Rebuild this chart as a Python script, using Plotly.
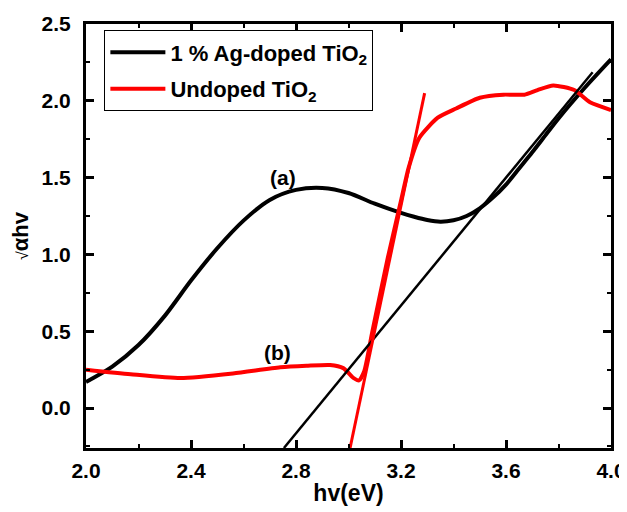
import plotly.graph_objects as go

# Data
ag_x = [2.0, 2.1, 2.2, 2.3, 2.4, 2.5, 2.6, 2.7, 2.8, 2.9, 3.0, 3.1, 3.2, 3.25, 3.3, 3.35, 3.4, 3.45, 3.5, 3.55, 3.6, 3.65, 3.7, 3.75, 3.8, 3.9, 4.0]
ag_y = [0.17, 0.27, 0.41, 0.60, 0.83, 1.04, 1.22, 1.355, 1.42, 1.433, 1.40, 1.33, 1.27, 1.245, 1.224, 1.213, 1.222, 1.25, 1.30, 1.37, 1.455, 1.56, 1.665, 1.775, 1.885, 2.085, 2.27]

un_x = [2.0, 2.17, 2.36, 2.56, 2.74, 2.84, 2.93, 2.98, 3.02, 3.04, 3.06, 3.09, 3.15, 3.20, 3.23, 3.27, 3.34, 3.41, 3.50, 3.59, 3.67, 3.72, 3.78, 3.86, 3.92, 4.0]
un_y = [0.25, 0.22, 0.195, 0.225, 0.265, 0.275, 0.28, 0.26, 0.195, 0.18, 0.24, 0.49, 0.98, 1.35, 1.57, 1.76, 1.89, 1.95, 2.02, 2.04, 2.04, 2.07, 2.10, 2.07, 1.99, 1.94]

fit_ag_x = [2.754, 3.93]
fit_ag_y = [-0.26, 2.186]
fit_un_x = [3.006, 3.29]
fit_un_y = [-0.26, 2.05]

labels = ["(a)", "(b)"]
label_x = [2.75, 2.73]
label_y = [1.50, 0.36]

FONT = "Arial, 'Liberation Sans', sans-serif"

fig = go.Figure()
fig.add_trace(go.Scatter(x=ag_x, y=ag_y, mode="lines", name="<b>1 % Ag-doped TiO<sub>2</sub></b>",
                         legendgroup="a",
                         line=dict(color="black", width=4, shape="spline", smoothing=0.8)))
fig.add_trace(go.Scatter(x=un_x, y=un_y, mode="lines", name="<b>Undoped TiO<sub>2</sub></b>",
                         legendgroup="b",
                         line=dict(color="#ff0000", width=4, shape="spline", smoothing=0.6)))
fig.add_trace(go.Scatter(x=fit_ag_x, y=fit_ag_y, mode="lines", showlegend=False,
                         line=dict(color="black", width=2.5)))
fig.add_trace(go.Scatter(x=fit_un_x, y=fit_un_y, mode="lines", showlegend=False,
                         line=dict(color="#ff0000", width=3)))

for t, x, y in zip(labels, label_x, label_y):
    fig.add_annotation(x=x, y=y, text="<b>" + t + "</b>", showarrow=False,
                       font=dict(family=FONT, size=21, color="black"))

axis_common = dict(
    showline=True, linecolor="black", linewidth=3, mirror="allticks",
    ticks="inside", ticklen=8, tickwidth=3, tickcolor="black",
    showgrid=False, zeroline=False, automargin=False,
    tickfont=dict(family=FONT, size=21, color="black", weight="bold"),
)

fig.update_xaxes(range=[2.0, 4.0], tick0=2.0, dtick=0.4, tickformat=".1f",
                 minor=dict(ticks="inside", ticklen=4, tickwidth=2, tickcolor="black", dtick=0.2),
                 title=dict(text="<b>hv(eV)</b>", font=dict(family=FONT, size=23, color="black"), standoff=4),
                 ticklabelstandoff=2,
                 **axis_common)
fig.update_yaxes(range=[-0.26, 2.5], tick0=0, dtick=0.5, tickformat=".1f",
                 minor=dict(ticks="inside", ticklen=4, tickwidth=2, tickcolor="black", dtick=0.25),
                 title=dict(text="<span style='font-size:16px;font-weight:normal'>√</span><b>αhv</b>",
                            font=dict(family=FONT, size=22, color="black"), standoff=10),
                 ticklabelstandoff=8,
                 **axis_common)

# The page body adds an 8 px offset; the figure is sized to compensate.
fig.update_layout(
    width=619, height=504,
    margin=dict(l=78, r=16, t=16, b=64),
    plot_bgcolor="white", paper_bgcolor="white",
    font=dict(family=FONT, color="black"),
    legend=dict(x=0.035, y=0.985, xanchor="left", yanchor="top",
                bgcolor="white", bordercolor="black", borderwidth=1,
                font=dict(family=FONT, size=22, color="black"),
                itemwidth=55, tracegroupgap=5),
)

fig.write_html("out.html")
